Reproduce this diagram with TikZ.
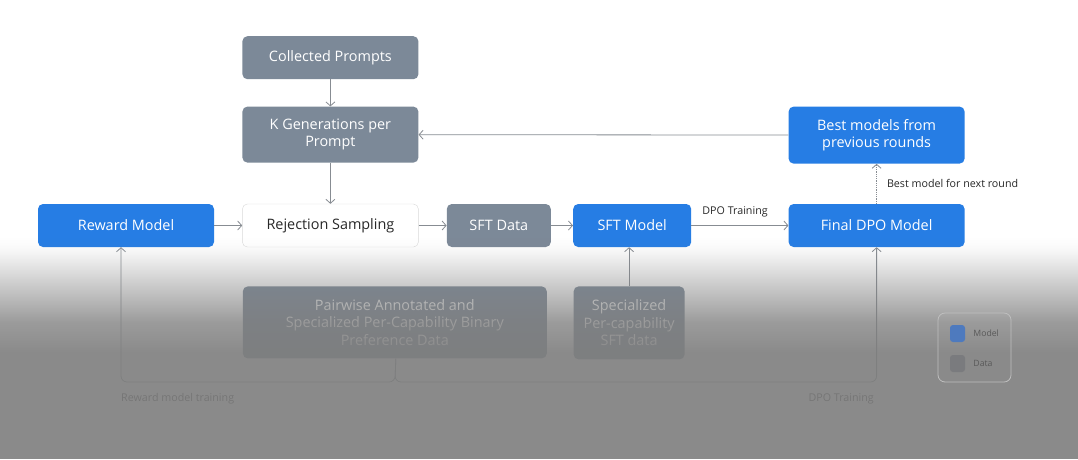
\documentclass[tikz,border=0pt]{standalone}
\usepackage{fontspec}
\setmainfont{Open Sans}
\usepackage{xcolor}
\definecolor{mblue}{RGB}{38,125,228}
\definecolor{dslate}{RGB}{124,137,152}
\definecolor{lgray}{RGB}{135,140,146}
\definecolor{ink}{RGB}{40,40,40}
\definecolor{mist}{RGB}{126,126,126}
\definecolor{keyblue}{RGB}{78,122,190}
\definecolor{keygray}{RGB}{122,123,126}
\usepackage{tikz}
\usetikzlibrary{arrows.meta,positioning}
\tikzset{
  model/.style={fill=mblue,text=white,rounded corners=5pt,align=center,minimum height=43pt,inner sep=3pt,font=\fontsize{14.4}{17.5}\selectfont},
  data/.style={model,fill=dslate},
  stage/.style={model,fill=white,draw=black!15,text=ink},
  flow/.style={-{Straight Barb[length=4pt,width=9pt]},draw=lgray,line width=0.8pt},
  note/.style={font=\fontsize{10.7}{12}\selectfont,text=ink,inner sep=2pt},
  swatch/.style={rounded corners=3pt,minimum width=15pt,minimum height=17pt,inner sep=0pt},
}

\begin{document}
\begin{tikzpicture}[x=1pt,y=-1pt]
\useasboundingbox (0,0) rectangle (1078,459);
\fill[white] (0,0) rectangle (1078,459);
\node[model,minimum width=176pt] (reward) at (126,225.5) {Reward Model};
\node[stage,minimum width=176pt,right=28pt of reward] (rejsamp) {Rejection Sampling};
\node[data,minimum width=104pt,right=28pt of rejsamp] (sftdata) {SFT Data};
\node[model,minimum width=118pt,right=22pt of sftdata] (sftmodel) {SFT Model};
\node[model,minimum width=176pt,right=97pt of sftmodel] (finaldpo) {Final DPO Model};
\node[data,minimum width=176pt,minimum height=56pt,above=41pt of rejsamp] (kgen) {K Generations per\\Prompt};
\node[data,minimum width=176pt,above=27pt of kgen] (prompts) {Collected Prompts};
\node[model,minimum width=176pt,minimum height=57pt,above=40pt of finaldpo] (best) {Best models from\\previous rounds};
\node[data,minimum width=304pt,minimum height=72pt,below right=39pt and -176pt of rejsamp] (pairwise) {Pairwise Annotated and\\Specialized Per-Capability Binary\\Preference Data};
\node[data,minimum width=111pt,minimum height=73pt,below right=39pt and -118pt of sftmodel] (specsft) {Specialized\\Per-capability\\SFT data};
\coordinate (split) at (395,382);
\draw[flow] (prompts) -- (kgen);
\draw[flow] (kgen) -- (rejsamp);
\draw[flow] (best) -- (kgen);
\draw[flow] (reward) -- (rejsamp);
\draw[flow] (rejsamp) -- (sftdata);
\draw[flow] (sftdata) -- (sftmodel);
\draw[flow] (sftmodel) -- node[note,above,pos=0.45,yshift=6pt]{DPO Training} (finaldpo);
\draw[flow,densely dotted] (finaldpo) -- node[note,right,xshift=8pt]{Best model for next round} (best);
\draw[flow] (specsft.north) -- (specsft.north |- sftmodel.south);
\draw[flow,rounded corners=6pt] ([xshift=1pt]pairwise.south) -- (split) -| ([xshift=-5pt]reward.south);
\draw[flow,rounded corners=6pt] ([xshift=1pt]pairwise.south) -- (split) -| (finaldpo.south);
\node[note,anchor=west] (rmtrain) at (119,399) {Reward model training};
\node[note,anchor=east] (dpotrain) at (876,399) {DPO Training};
\foreach \y in {235,...,458}{
  \pgfmathsetmacro\op{ifthenelse(\y<255,((\y-235)/63.25)^2,min(0.1+0.01*(\y-255),0.7+0.0044*(\y-306),0.9))}
  \fill[mist,fill opacity=\op] (-2,\y) rectangle (1080,{\y+1});
}
\node[draw=black!25,line width=0.8pt,rounded corners=7pt,minimum width=73pt,minimum height=69pt] (legend) at (974.5,347.5) {};
\node[swatch,fill=keyblue] (keymodel) at (957.5,333.5) {};
\node[swatch,fill=keygray] (keydata) at (957.5,363.5) {};
\node[note,font=\fontsize{8.7}{10}\selectfont,text=black!65,right=6pt of keymodel] (keymodeltxt) {Model};
\node[note,font=\fontsize{8.7}{10}\selectfont,text=black!65,right=6pt of keydata] (keydatatxt) {Data};
\end{tikzpicture}
\end{document}
